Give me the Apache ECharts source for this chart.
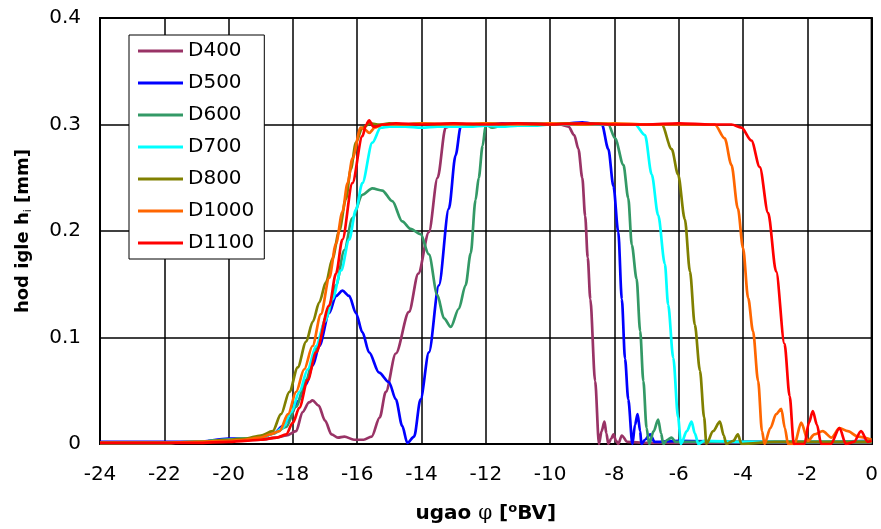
<!DOCTYPE html>
<html>
<head>
<meta charset="utf-8">
<script src="https://cdn.jsdelivr.net/npm/echarts@6/dist/echarts.min.js"></script>
<style>html,body{margin:0;padding:0;background:#fff}#c{width:881px;height:529px}</style>
</head>
<body>
<div id="c"></div>
<script>
const seriesNames = ['D400','D500','D600','D700','D800','D1000','D1100'];
const seriesColors = ['#993366','#0000FF','#339966','#00FFFF','#808000','#FF6600','#FF0000'];
const xTicks = [-24,-22,-20,-18,-16,-14,-12,-10,-8,-6,-4,-2,0];
const yTicks = [0,0.1,0.2,0.3,0.4];

const d400 = [[-24,0.001],[-22,0.001],[-21,0.0015],[-20,0.003],[-19,0.004],[-18.5,0.006],[-18.2,0.008],[-17.9,0.012],[-17.7,0.03],[-17.5,0.039],[-17.39,0.041],[-17.2,0.036],[-17.0,0.022],[-16.8,0.009],[-16.6,0.006],[-16.4,0.007],[-16.1,0.004],[-15.8,0.004],[-15.55,0.007],[-15.3,0.025],[-15.11,0.049],[-14.8,0.085],[-14.39,0.124],[-14.1,0.16],[-13.77,0.199],[-13.5,0.25],[-13.25,0.297],[-13.0,0.300],[-12.5,0.299],[-12,0.301],[-11.5,0.300],[-11,0.301],[-10.5,0.300],[-10,0.301],[-9.7,0.300],[-9.43,0.298],[-9.25,0.29],[-9.12,0.277],[-9.0,0.25],[-8.91,0.214],[-8.83,0.175],[-8.75,0.136],[-8.6,0.059],[-8.48,0.0],[-8.4,0.012],[-8.31,0.021],[-8.25,0.01],[-8.19,0.0],[-8.1,0.005],[-8.03,0.009],[-7.95,0.003],[-7.88,0.0],[-7.77,0.008],[-7.6,0.002],[-7,0.001],[-6,0.001],[-4,0.001],[-2,0.001],[0,0.001]];
const d500 = [[-24,0.002],[-22,0.002],[-21,0.002],[-20,0.005],[-19.5,0.005],[-19,0.006],[-18.6,0.01],[-18.3,0.017],[-18.11,0.024],[-17.85,0.04],[-17.59,0.056],[-17.38,0.074],[-17.18,0.092],[-16.87,0.123],[-16.66,0.139],[-16.46,0.144],[-16.25,0.139],[-16.04,0.123],[-15.84,0.105],[-15.63,0.086],[-15.32,0.067],[-15.01,0.058],[-14.8,0.042],[-14.6,0.017],[-14.44,0.001],[-14.23,0.007],[-14.03,0.042],[-13.77,0.086],[-13.46,0.149],[-13.15,0.221],[-12.94,0.271],[-12.78,0.298],[-12.5,0.300],[-12,0.299],[-11.5,0.301],[-11,0.300],[-10.5,0.301],[-10,0.300],[-9.5,0.301],[-9,0.302],[-8.7,0.301],[-8.39,0.300],[-8.19,0.277],[-8.03,0.242],[-7.88,0.199],[-7.77,0.136],[-7.67,0.080],[-7.57,0.042],[-7.44,0.0],[-7.36,0.018],[-7.28,0.028],[-7.2,0.012],[-7.16,0.0],[-7.05,0.004],[-6.89,0.009],[-6.75,0.002],[-6,0.003],[-4,0.002],[-2,0.002],[0,0.003]];
const d600 = [[-24,0.001],[-22,0.001],[-21,0.002],[-20,0.004],[-19.5,0.005],[-19,0.006],[-18.6,0.01],[-18.21,0.016],[-17.9,0.035],[-17.6,0.06],[-17.28,0.089],[-16.95,0.12],[-16.66,0.149],[-16.4,0.182],[-16.15,0.212],[-15.84,0.234],[-15.53,0.240],[-15.22,0.238],[-14.91,0.228],[-14.6,0.209],[-14.34,0.202],[-14.03,0.197],[-13.77,0.178],[-13.51,0.140],[-13.3,0.118],[-13.09,0.110],[-12.84,0.127],[-12.63,0.149],[-12.47,0.179],[-12.32,0.229],[-12.22,0.250],[-12.1,0.28],[-12.0,0.300],[-11.8,0.297],[-11.5,0.299],[-11,0.300],[-10.5,0.301],[-10,0.300],[-9.5,0.301],[-9,0.301],[-8.5,0.300],[-8.19,0.300],[-7.98,0.287],[-7.72,0.262],[-7.57,0.231],[-7.46,0.187],[-7.31,0.155],[-7.2,0.106],[-7.1,0.059],[-7.0,0.015],[-6.92,0.0],[-6.78,0.012],[-6.64,0.023],[-6.55,0.01],[-6.48,0.0],[-6.35,0.004],[-6.22,0.006],[-6.1,0.002],[-5,0.002],[-3,0.002],[0,0.002]];
const d700 = [[-24,0.001],[-22,0.001],[-21,0.002],[-20,0.004],[-19.5,0.005],[-19,0.006],[-18.6,0.01],[-18.32,0.015],[-18.05,0.03],[-17.8,0.049],[-17.54,0.07],[-17.28,0.092],[-17.0,0.115],[-16.77,0.136],[-16.5,0.163],[-16.25,0.192],[-16.04,0.22],[-15.84,0.245],[-15.53,0.283],[-15.27,0.297],[-15,0.298],[-14.5,0.298],[-14,0.297],[-13.5,0.298],[-13,0.298],[-12.5,0.298],[-12,0.299],[-11.5,0.298],[-11,0.299],[-10.5,0.299],[-10,0.300],[-9.5,0.300],[-9,0.300],[-8.5,0.300],[-8,0.300],[-7.6,0.300],[-7.36,0.300],[-7.05,0.290],[-6.84,0.253],[-6.64,0.215],[-6.43,0.169],[-6.33,0.131],[-6.17,0.081],[-6.02,0.025],[-5.93,0.0],[-5.75,0.012],[-5.6,0.021],[-5.5,0.01],[-5.39,0.0],[-5.2,0.003],[-4,0.002],[-2,0.002],[0,0.002]];
const d800 = [[-24,0.001],[-22,0.001],[-21,0.002],[-20,0.004],[-19.5,0.005],[-19,0.008],[-18.63,0.012],[-18.37,0.028],[-18.11,0.049],[-17.85,0.072],[-17.59,0.096],[-17.38,0.115],[-17.18,0.133],[-16.97,0.152],[-16.77,0.174],[-16.56,0.2],[-16.35,0.230],[-16.2,0.258],[-16.04,0.283],[-15.84,0.297],[-15.6,0.301],[-15.3,0.300],[-15,0.301],[-14.5,0.300],[-14,0.301],[-13.5,0.300],[-13,0.301],[-12.5,0.300],[-12,0.301],[-11.5,0.300],[-11,0.301],[-10.5,0.300],[-10,0.300],[-9.5,0.301],[-9,0.300],[-8.5,0.301],[-8,0.300],[-7.5,0.300],[-7,0.300],[-6.53,0.300],[-6.22,0.277],[-6.02,0.253],[-5.81,0.211],[-5.65,0.162],[-5.5,0.112],[-5.34,0.069],[-5.21,0.025],[-5.14,0.0],[-4.93,0.012],[-4.72,0.021],[-4.6,0.008],[-4.52,0.0],[-4.3,0.003],[-4.16,0.009],[-4.05,0.0],[-3,0.002],[0,0.002]];
const d1000 = [[-24,0.001],[-22,0.001],[-21,0.002],[-20,0.003],[-19.5,0.004],[-19,0.006],[-18.7,0.009],[-18.42,0.012],[-18.15,0.028],[-17.9,0.049],[-17.65,0.07],[-17.39,0.092],[-17.13,0.122],[-16.87,0.156],[-16.66,0.188],[-16.46,0.218],[-16.3,0.245],[-16.15,0.268],[-15.89,0.297],[-15.75,0.295],[-15.63,0.292],[-15.45,0.297],[-15.2,0.300],[-14.5,0.300],[-14,0.301],[-13,0.300],[-12,0.301],[-11,0.300],[-10,0.301],[-9,0.300],[-8,0.301],[-7,0.300],[-6,0.300],[-5.3,0.300],[-4.88,0.300],[-4.57,0.287],[-4.36,0.262],[-4.16,0.221],[-4.0,0.184],[-3.84,0.137],[-3.69,0.106],[-3.53,0.059],[-3.41,0.012],[-3.33,0.0],[-3.15,0.015],[-2.97,0.028],[-2.81,0.033],[-2.7,0.015],[-2.6,0.0],[-2.4,0.0],[-2.19,0.020],[-1.98,0.003],[-1.78,0.009],[-1.52,0.012],[-1.25,0.006],[-1.0,0.015],[-0.74,0.012],[-0.43,0.007],[0,0.004]];
const d1100 = [[-24,0.001],[-22,0.001],[-21,0.001],[-20,0.002],[-19.5,0.003],[-19,0.004],[-18.5,0.006],[-18.21,0.009],[-18.0,0.02],[-17.8,0.034],[-17.54,0.06],[-17.28,0.086],[-16.87,0.130],[-16.66,0.16],[-16.46,0.192],[-16.15,0.245],[-15.84,0.289],[-15.72,0.300],[-15.63,0.304],[-15.5,0.298],[-15.43,0.298],[-15.2,0.300],[-14.8,0.301],[-14,0.300],[-13,0.301],[-12,0.300],[-11,0.301],[-10,0.300],[-9,0.301],[-8,0.300],[-7,0.300],[-6,0.301],[-5,0.300],[-4.6,0.300],[-4.36,0.300],[-4.05,0.297],[-3.74,0.285],[-3.48,0.260],[-3.22,0.217],[-2.97,0.162],[-2.71,0.094],[-2.55,0.045],[-2.42,0.0],[-2.09,0.0],[-1.95,0.02],[-1.83,0.031],[-1.7,0.018],[-1.57,0.0],[-1.27,0.0],[-1.0,0.015],[-0.8,0.0],[-0.55,0.002],[-0.33,0.012],[-0.12,0.002],[0,0.003]];
const allData = [d400,d500,d600,d700,d800,d1000,d1100];

const chart = echarts.init(document.getElementById('c'), null, {renderer:'canvas'});
const FONT = 'DejaVu Sans';
chart.setOption({
  animation: false,
  backgroundColor: '#fff',
  grid: {left:100, top:18, right:8, bottom:82, show:true, borderColor:'#000', borderWidth:2, backgroundColor:'transparent'},
  legend: {
    orient:'vertical', left:129, top:35,
    backgroundColor:'#fff', borderColor:'#000', borderWidth:1,
    padding:[6,10,6,9], itemGap:12, itemWidth:45, itemHeight:3,
    icon:'rect',
    textStyle:{fontFamily:FONT, fontSize:20, color:'#000', lineHeight:20},
    data: seriesNames
  },
  xAxis: {
    type:'value', min:xTicks[0], max:xTicks[xTicks.length-1], interval:2,
    axisLine:{show:true, onZero:false, lineStyle:{color:'#000', width:2}},
    axisTick:{show:false},
    splitLine:{show:true, lineStyle:{color:'#000', width:1.5}},
    axisLabel:{fontFamily:FONT, fontSize:20, color:'#000', margin:21},
    name:'{a|ugao }{p|φ}{a| [}{s|o}{a|BV]}',
    nameLocation:'middle', nameGap:58,
    nameTextStyle:{rich:{
      a:{fontFamily:FONT, fontWeight:'bold', fontSize:20, color:'#000', lineHeight:24},
      p:{fontFamily:'DejaVu Serif', fontSize:20, color:'#000', lineHeight:24},
      s:{fontFamily:FONT, fontWeight:'bold', fontSize:13, color:'#000', lineHeight:13, verticalAlign:'top'}
    }}
  },
  yAxis: {
    type:'value', min:yTicks[0], max:yTicks[yTicks.length-1], interval:0.1,
    axisLine:{show:true, lineStyle:{color:'#000', width:2}},
    axisTick:{show:false},
    splitLine:{show:true, lineStyle:{color:'#000', width:1.5}},
    axisLabel:{fontFamily:FONT, fontSize:20, color:'#000', margin:19,
      formatter: v => v === 0 ? '0' : v.toFixed(1)},
    name:'{a|hod igle h}{s|i}{a| [mm]}',
    nameLocation:'middle', nameGap:66,
    nameTextStyle:{rich:{
      a:{fontFamily:FONT, fontWeight:'bold', fontSize:18, color:'#000', lineHeight:22},
      s:{fontFamily:FONT, fontSize:11, color:'#000', lineHeight:11, verticalAlign:'bottom'}
    }}
  },
  series: seriesNames.map((n,i) => ({
    name:n, type:'line', data:allData[i], showSymbol:false, symbol:'none',
    smooth:0.3, smoothMonotone:'x',
    lineStyle:{color:seriesColors[i], width:2.7},
    itemStyle:{color:seriesColors[i]},
    z: 2 + i
  }))
});
</script>
</body>
</html>
